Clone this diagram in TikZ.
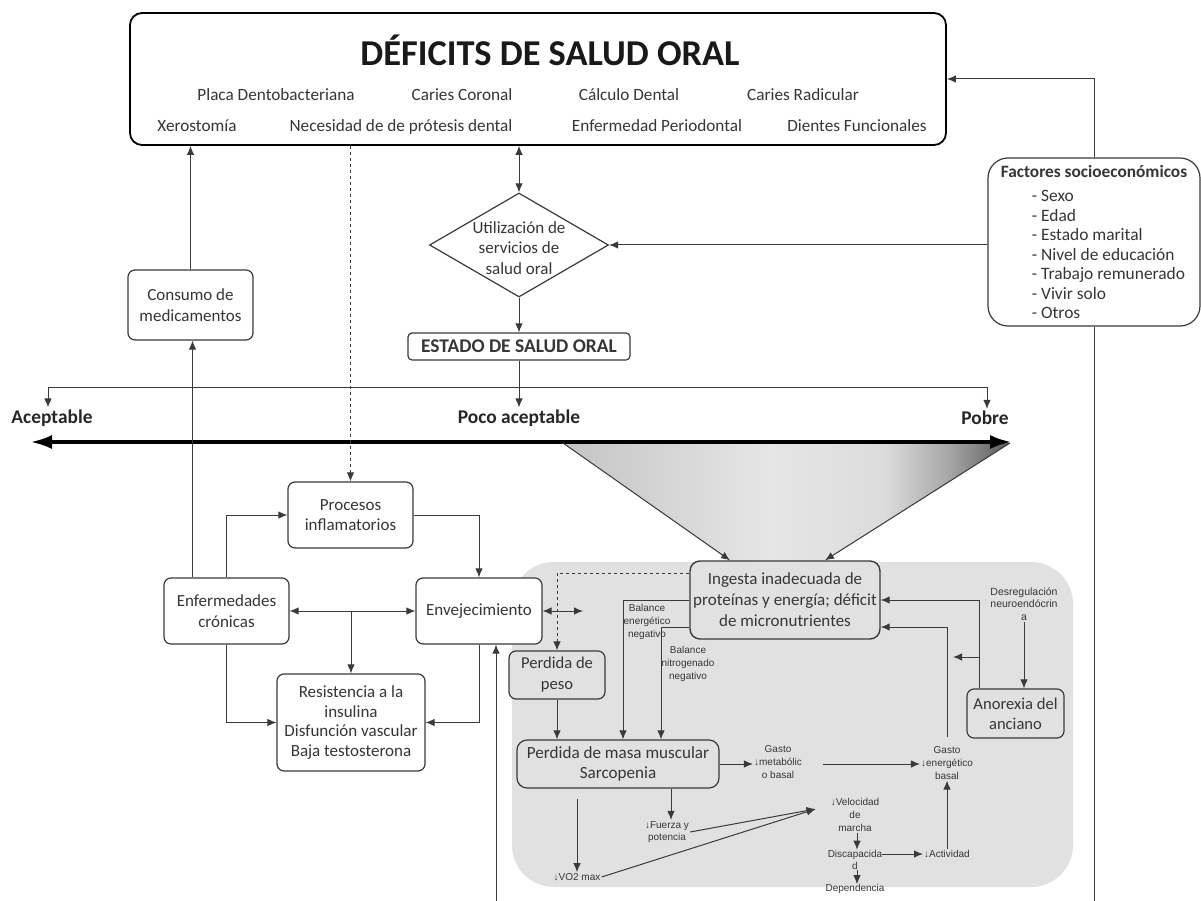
\documentclass[tikz,border=0pt]{standalone}
\usepackage{fontspec}
\setmainfont{Carlito}
\newfontfamily\arialf{Liberation Sans}
\usetikzlibrary{arrows.meta,shapes.geometric}
\definecolor{txt}{HTML}{363636}
\definecolor{linec}{HTML}{3A3A3A}
\definecolor{greyfill}{HTML}{E1E1E1}
\definecolor{sca}{HTML}{C4C4C4}
\definecolor{scb}{HTML}{E6E6E6}
\definecolor{scc}{HTML}{DCDCDC}
\definecolor{scd}{HTML}{A8A8A8}
\definecolor{sce}{HTML}{5A5A5A}
\pgfdeclarehorizontalshading{trapshade}{100bp}{color(0bp)=(sca); color(25bp)=(sca); color(48bp)=(scb); color(61bp)=(scc); color(68bp)=(scd); color(75bp)=(sce); color(100bp)=(sce)}
\newcommand{\fsz}[2]{\fontsize{#1}{#2}\selectfont}
\begin{document}
\begin{tikzpicture}[x=1pt,y=-1pt,
  box/.style={draw=linec, line width=1.2pt, rounded corners=7pt, fill=white, text=txt, align=center, inner sep=0pt, font=\fsz{17}{20.5}},
  gbox/.style={box, fill=greyfill},
  item/.style={text=txt, inner sep=0pt, anchor=base, font=\fsz{17.2}{19}},
  lvl/.style={text=black!85, inner sep=2pt, font=\bfseries\fsz{19.4}{22}},
  lbl/.style={text=txt, inner sep=1pt, align=center, font=\arialf\fsz{10}{12.8}},
  arr/.style={draw=linec, line width=1pt, -{Latex[length=9pt,width=7.5pt]}},
  darr/.style={draw=linec, line width=1pt, {Latex[length=9pt,width=7.5pt]}-{Latex[length=9pt,width=7.5pt]}},
  plain/.style={draw=linec, line width=1pt}]
\useasboundingbox (0,0) rectangle (1201,901);
\clip (0,0) rectangle (1201,901);
\fill[white] (0,0) rectangle (1201,901);

% grey region and gradient trapezoid
\fill[greyfill, rounded corners=42pt] (512,562) rectangle (1073,887);
\shade[shading=trapshade] (563,443) -- (1010,443) -- (825,561) -- (730,561) -- cycle;

% top box
\node[box, line width=1.8pt, rounded corners=12pt, draw=black, minimum width=816, minimum height=132] (top) at (538,79) {};
\node[inner sep=0pt, font=\bfseries\fsz{36.4}{40}, text=black!90] (title) at (550,50) {DÉFICITS DE SALUD ORAL};
\node[item] (i1) at (276,100.5) {Placa Dentobacteriana};
\node[item] (i2) at (462,100.5) {Caries Coronal};
\node[item] (i3) at (629,100.5) {Cálculo Dental};
\node[item] (i4) at (803,100.5) {Caries Radicular};
\node[item] (i5) at (197,131.5) {Xerostomía};
\node[item] (i6) at (401,131.5) {Necesidad de de prótesis dental};
\node[item] (i7) at (657,131.5) {Enfermedad Periodontal};
\node[item] (i8) at (857,131.5) {Dientes Funcionales};

% factors
\node[box, rounded corners=20pt, minimum width=212, minimum height=168, align=left, font=\fsz{17.4}{19.5}] (fac) at (1094,242)
  {{\bfseries\fsz{17.3}{19.5}Factores socioeconómicos}\\[4.5pt]
   \hspace*{31pt}- Sexo\\ \hspace*{31pt}- Edad\\ \hspace*{31pt}- Estado marital\\ \hspace*{31pt}- Nivel de educación\\
   \hspace*{31pt}- Trabajo remunerado\\ \hspace*{31pt}- Vivir solo\\ \hspace*{31pt}- Otros};
\coordinate (fb) at (1094,901);

% diamond and estado
\node[draw=linec, line width=1.2pt, shape=diamond, minimum width=179, minimum height=104, inner sep=0pt] (dia) at (519,245) {};
\node[text=txt, align=center, inner sep=0pt, font=\fsz{17}{20.5}] (diat) at (519,248) {Utilización de\\servicios de\\salud oral};
\node[box, rounded corners=4pt, minimum width=222, minimum height=27, font=\bfseries\fsz{19.4}{20}] (est) at (519,346.5) {ESTADO DE SALUD ORAL};

% medicamentos
\node[box, minimum width=125, minimum height=70] (med) at (190.5,305) {Consumo de\\medicamentos};

% levels
\node[lvl] (acept) at (52,418) {Aceptable};
\node[lvl] (poco) at (519,418) {Poco aceptable};
\node[lvl] (pobre) at (985,418) {Pobre};
\coordinate (hl) at (48,387);
\coordinate (hr) at (987,387);
\coordinate (tkl) at (30,442);
\coordinate (tkr) at (1012,442);

% left cluster
\node[box] (proc) at (350.5,515) [minimum width=125, minimum height=66] {Procesos\\inflamatorios};
\node[box] (enf) at (226.5,611) [minimum width=125, minimum height=66] {Enfermedades\\crónicas};
\node[box] (env) at (479,611) [minimum width=126, minimum height=66] {Envejecimiento};
\node[box] (res) at (351,722.5) [minimum width=148, minimum height=97, font=\fsz{17}{19.5}] {Resistencia a la\\insulina\\Disfunción vascular\\Baja testosterona};
\coordinate (envr) at (583,611);
\coordinate (envb) at (496,901);

% grey cluster
\node[gbox, line width=1.4pt, rounded corners=10pt, minimum width=190, minimum height=78, font=\fsz{17}{21}] (ing) at (785,600) {Ingesta inadecuada de\\proteínas y energía; déficit\\de micronutrientes};
\node[gbox, minimum width=96, minimum height=48, font=\fsz{16.6}{21}] (pes) at (557,675) {Perdida de\\peso};
\node[gbox, rounded corners=10pt, minimum width=202, minimum height=48, font=\fsz{17.1}{20}] (sar) at (618,764) {Perdida de masa muscular\\Sarcopenia};
\node[gbox, minimum width=97, minimum height=49, font=\fsz{16.6}{20}] (ano) at (1015.5,713.5) {Anorexia del\\anciano};

\node[lbl] (be) at (647,622) {Balance\\energético\\negativo};
\node[lbl] (bn) at (688,664) {Balance\\nitrogenado\\negativo};
\node[lbl, font=\arialf\fsz{10.5}{12.8}] (des) at (1024,604) {Desregulación\\neuroendócrin\\a};
\node[lbl] (gm) at (778,762) {Gasto\\\textbf{↓}metabólic\\o basal};
\node[lbl] (ge) at (947,763) {Gasto\\\textbf{↓}energético\\basal};
\node[lbl] (act) at (947,854) {\textbf{↓}Actividad};
\node[lbl] (vel) at (855,815) {\textbf{↓}Velocidad\\de\\marcha};
\node[lbl, inner sep=0pt] (dis) at (855,860) {Discapacida\\d};
\node[lbl, inner sep=0pt] (dep) at (855,889) {Dependencia};
\node[lbl] (fu) at (667,832) {\textbf{↓}Fuerza y\\potencia};
\node[lbl] (vo) at (577,877) {\textbf{↓}VO2 max};
\coordinate (brs) at (979,657);
\coordinate (bre) at (953,657);

% ---------------- connectors
\draw[arr] (fac.north) |- (top.east);
\draw[plain] (fb) -- (fac.south);
\draw[arr] (fac.west |- dia.east) -- (dia.east);
\draw[darr] (dia.north |- top.south) -- (dia.north);
\draw[arr] (dia.south) -- (est.north);
\draw[arr] (est.south) -- (poco.north);
\draw[plain] (hl) -- (hr);
\draw[arr] (hl) -- (hl |- acept.north);
\draw[arr] (hr) -- (hr |- pobre.north);
\draw[line width=4pt, {Latex[length=22pt,width=14pt]}-{Latex[length=22pt,width=14pt]}] (tkl) -- (tkr);

\draw[arr] (med.north) -- (med.north |- top.south);
\draw[arr] ([xshift=2pt]med.south |- enf.north) -- ([xshift=2pt]med.south);
\draw[arr, dashed] (proc.north |- top.south) -- (proc.north);

\draw[arr] (enf.north) |- (proc.west);
\draw[arr] (proc.east) -| (env.north);
\draw[darr] (enf.east) -- (env.west);
\draw[arr] (enf.east -| res.north) -- (res.north);
\draw[arr] (enf.south) |- (res.west);
\draw[arr] (env.south) |- (res.east);
\draw[darr] (env.east) -- (envr);
\draw[arr] (envb) -- (envb |- env.south);

\draw[arr] (563,443) -- ([xshift=-55pt]ing.north);
\draw[arr] (1010,443) -- ([xshift=40pt]ing.north);
\draw[arr, dashed] ([yshift=27pt]ing.west) -| (pes.north);
\draw[arr] (pes.south) -- (pes.south |- sar.north);
\draw[arr] (ing.west) -| ([xshift=5pt]sar.north);
\draw[arr] ([yshift=-27pt]ing.west) -| ([xshift=43pt]sar.north);
\draw[arr] (sar.east) -- (sar.east -| gm.west);
\draw[arr, shorten <=20pt] (gm.east |- sar.east) -- (ge.west |- sar.east);
\draw[arr, shorten <=8pt] (ge.north) |- ([yshift=-27pt]ing.east);
\draw[arr] ([xshift=-36pt]ano.north) |- (ing.east);
\draw[arr] (brs) -- (bre);
\draw[arr] (des.south) -- (des.south |- ano.north);
\draw[arr] (act.north) -- (act.north |- ge.south);
\draw[arr] ([xshift=2pt]vel.south) -- ([xshift=2pt]dis.north);
\draw[arr] ([xshift=2pt]dis.south) -- ([xshift=2pt]dep.north);
\draw[arr] ([yshift=6pt]dis.east) -- ([yshift=6pt]dis.east -| act.west);
\draw[arr, shorten <=10pt] ([xshift=-41pt]sar.south) -- ([xshift=-41pt]sar.south |- vo.north);
\draw[arr] ([xshift=53pt]sar.south) -- ([xshift=53pt]sar.south |- fu.north);
\draw[arr] (fu.east) -- ([xshift=-14pt,yshift=6pt]vel.west);
\draw[arr] (vo.east) -- ([xshift=-14pt,yshift=6pt]vel.west);
\end{tikzpicture}
\end{document}
